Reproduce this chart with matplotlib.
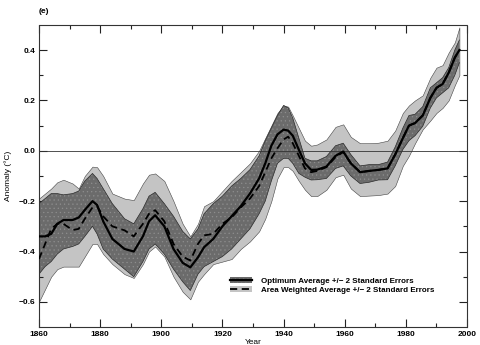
import matplotlib

matplotlib.use("Agg")
import matplotlib.pyplot as plt
from matplotlib.lines import Line2D
from matplotlib.patches import Patch

plt.rcParams["font.family"] = ["Liberation Sans", "DejaVu Sans"]
plt.rcParams["font.weight"] = "bold"
plt.rcParams["hatch.linewidth"] = 0.4

years = [1860, 1862, 1864, 1866, 1868, 1871, 1873, 1875, 1877.5, 1879, 1881, 1884, 1888,
         1891, 1894, 1896, 1898, 1901, 1904, 1907, 1909.5, 1912, 1914, 1917, 1920, 1923,
         1926, 1929, 1932, 1934, 1936, 1938, 1940, 1941.5, 1943, 1945, 1947, 1949, 1951,
         1954, 1957, 1959.5, 1962, 1965, 1968, 1971, 1974, 1976.5, 1979, 1981, 1983,
         1985.5, 1988, 1990, 1992, 1994, 1996, 1997.5]

# optimum average (solid) and its +/- 2 SE band
optimum = [-0.34, -0.34, -0.33, -0.29, -0.275, -0.275, -0.265, -0.235, -0.20, -0.215, -0.28,
           -0.35, -0.39, -0.40, -0.34, -0.28, -0.256, -0.30, -0.39, -0.445, -0.463, -0.423,
           -0.383, -0.35, -0.30, -0.26, -0.22, -0.17, -0.11, -0.05, 0.02, 0.065, 0.084, 0.08,
           0.06, 0.004, -0.05, -0.076, -0.075, -0.063, -0.02, -0.003, -0.05, -0.085, -0.08,
           -0.076, -0.07, -0.015, 0.05, 0.10, 0.11, 0.14, 0.21, 0.25, 0.265, 0.31, 0.37, 0.40]
opt_hi = [-0.21, -0.19, -0.17, -0.17, -0.175, -0.17, -0.16, -0.12, -0.09, -0.11, -0.15, -0.21,
          -0.27, -0.29, -0.23, -0.18, -0.165, -0.21, -0.26, -0.32, -0.35, -0.31, -0.25, -0.21,
          -0.18, -0.14, -0.11, -0.075, -0.02, 0.04, 0.09, 0.14, 0.18, 0.17, 0.13, 0.05, -0.03,
          -0.04, -0.04, -0.023, 0.02, 0.03, -0.015, -0.06, -0.055, -0.055, -0.045, 0.015,
          0.09, 0.14, 0.145, 0.175, 0.25, 0.27, 0.29, 0.33, 0.40, 0.44]
opt_lo = [-0.49, -0.46, -0.44, -0.41, -0.39, -0.38, -0.37, -0.34, -0.30, -0.33, -0.39, -0.43,
          -0.47, -0.50, -0.44, -0.39, -0.37, -0.41, -0.47, -0.52, -0.555, -0.49, -0.46, -0.44,
          -0.42, -0.39, -0.35, -0.31, -0.25, -0.20, -0.12, -0.05, -0.03, -0.03, -0.05, -0.09,
          -0.105, -0.116, -0.115, -0.11, -0.07, -0.06, -0.10, -0.13, -0.125, -0.116, -0.115,
          -0.06, 0.005, 0.04, 0.06, 0.097, 0.17, 0.21, 0.23, 0.25, 0.30, 0.35]

# area weighted average (dashed) and its +/- 2 SE band
area = [-0.43, -0.37, -0.31, -0.29, -0.29, -0.315, -0.31, -0.27, -0.225, -0.22, -0.26, -0.30,
        -0.316, -0.34, -0.29, -0.25, -0.236, -0.28, -0.37, -0.42, -0.436, -0.37, -0.336, -0.33,
        -0.29, -0.265, -0.225, -0.19, -0.14, -0.085, -0.03, 0.01, 0.045, 0.056, 0.03, -0.02,
        -0.07, -0.085, -0.08, -0.065, -0.025, -0.005, -0.05, -0.085, -0.08, -0.076, -0.07,
        -0.015, 0.05, 0.10, 0.11, 0.14, 0.21, 0.25, 0.265, 0.31, 0.37, 0.40]
area_hi = [-0.19, -0.17, -0.15, -0.125, -0.115, -0.13, -0.15, -0.10, -0.063, -0.065, -0.10,
           -0.17, -0.19, -0.196, -0.13, -0.095, -0.09, -0.12, -0.20, -0.29, -0.34, -0.29, -0.22,
           -0.20, -0.16, -0.12, -0.085, -0.05, 0.0, 0.05, 0.10, 0.15, 0.18, 0.175, 0.14, 0.09,
           0.04, 0.02, 0.025, 0.045, 0.095, 0.105, 0.055, 0.03, 0.03, 0.032, 0.04, 0.08, 0.15,
           0.18, 0.20, 0.22, 0.29, 0.33, 0.34, 0.39, 0.43, 0.49]
area_lo = [-0.60, -0.55, -0.50, -0.47, -0.46, -0.46, -0.46, -0.42, -0.37, -0.37, -0.41, -0.45,
           -0.49, -0.505, -0.45, -0.40, -0.38, -0.42, -0.50, -0.56, -0.59, -0.52, -0.49, -0.45,
           -0.44, -0.43, -0.39, -0.36, -0.32, -0.27, -0.20, -0.11, -0.065, -0.065, -0.08, -0.12,
           -0.155, -0.18, -0.18, -0.155, -0.105, -0.095, -0.15, -0.18, -0.178, -0.176, -0.17,
           -0.14, -0.06, -0.02, 0.03, 0.085, 0.12, 0.15, 0.17, 0.20, 0.26, 0.30]

label_opt = "Optimum Average +/\u2212 2 Standard Errors"
label_area = "Area Weighted Average +/\u2212 2 Standard Errors"

light = "#c4c4c4"
dark = "#6b6b6b"
dots = "#8e8e8e"

fig = plt.figure(figsize=(4.81, 3.45), dpi=100)
ax = fig.add_axes([0.081, 0.052, 0.890, 0.876])

ax.fill_between(years, area_lo, area_hi, facecolor=light, edgecolor="#444444",
                linewidth=0.4, zorder=1)
ax.fill_between(years, opt_lo, opt_hi, facecolor=dark, edgecolor=dots, hatch="....",
                linewidth=0, zorder=2)
ax.plot(years, opt_lo, color="#2a2a2a", lw=0.5, zorder=2.5)
ax.plot(years, opt_hi, color="#2a2a2a", lw=0.5, zorder=2.5)
ax.axhline(0.0, color="#333333", lw=0.6, zorder=3)
ax.plot(years, area, color="black", lw=1.3, linestyle=(0, (4, 2.5)), zorder=4)
ax.plot(years, optimum, color="black", lw=1.6, zorder=5)

ax.set_xlim(1860, 2000)
ax.set_ylim(-0.7, 0.5)
ax.set_xticks(range(1860, 2001, 20))
ax.set_xticks(range(1870, 2000, 20), minor=True)
ax.set_yticks([-0.6, -0.4, -0.2, 0.0, 0.2, 0.4])
ax.set_yticks([-0.5, -0.3, -0.1, 0.1, 0.3], minor=True)
ax.set_yticklabels(["\u22120.6", "\u22120.4", "\u22120.2", "0.0", "0.2", "0.4"])
ax.tick_params(which="both", direction="in", top=True, right=True, labelsize=6, pad=2.5,
               width=0.8, color="#222222")
ax.tick_params(which="major", length=5.5)
ax.tick_params(which="minor", length=3)
for sp in ax.spines.values():
    sp.set_linewidth(0.8)
    sp.set_linestyle((0, (1, 1)))
    sp.set_color("#333333")

ax.set_xlabel("Year", fontsize=6, labelpad=1)
ax.set_ylabel("Anomaly (\u00b0C)", fontsize=6, labelpad=5)
fig.text(0.081, 0.978, "(e)", fontsize=6, ha="left", va="top")

handles = [
    (Patch(facecolor=dark, edgecolor=dots, hatch="....", linewidth=0),
     Line2D([], [], color="black", lw=1.6)),
    (Patch(facecolor=light, edgecolor="none"),
     Line2D([], [], color="black", lw=1.3, linestyle=(0, (4, 2.5)))),
]
ax.legend(handles, [label_opt, label_area], loc="upper left",
          bbox_to_anchor=(0.446, 0.165), frameon=False, fontsize=5.8,
          handlelength=2.7, handleheight=0.8, handletextpad=1.2,
          labelspacing=0.15, borderpad=0, borderaxespad=0)

fig.savefig("out.png", dpi=100)
plt.close(fig)
